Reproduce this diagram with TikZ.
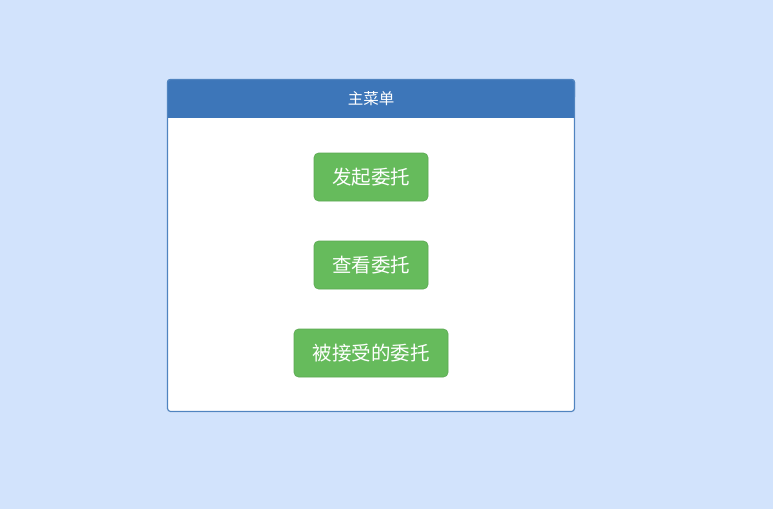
\documentclass[tikz,border=0pt]{standalone}
\usepackage{fontspec}
\setmainfont{Noto Sans CJK SC}
\usepackage{xcolor}
\definecolor{bgblue}{HTML}{D2E3FC}
\definecolor{headblue}{HTML}{3D76B9}
\definecolor{btngreen}{HTML}{66BB5C}
\tikzset{
	menubtn/.style = {fill=btngreen, draw=btngreen!90!black, line width=0.6pt, rounded corners=4.5pt, text=white, font=\fontsize{19.5}{22}\selectfont, minimum height=48pt, inner xsep=15pt, anchor=center},
}

\begin{document}
\begin{tikzpicture}[x=1pt, y=-1pt]
		\fill[bgblue] (0,0) rectangle (773,509);
		\useasboundingbox (0,0) rectangle (773,509);
		\fill[white, rounded corners=3pt] (167,79) rectangle (575,412);
		\fill[headblue, rounded corners=3pt] (167,79) rectangle (575,100);
		\fill[headblue] (167,95) rectangle (575,118);
		\draw[headblue!90!white, line width=1.2pt, rounded corners=3pt] (167.5,79.5) rectangle (574.5,411.5);
		\node[text=white, font=\fontsize{15.5}{17}\selectfont] (title) at (371,99) {主菜单};
		\node[menubtn, minimum width=114pt] (start) at (371,177) {发起委托};
		\node[menubtn, minimum width=114pt] (view) at (371,265) {查看委托};
		\node[menubtn, minimum width=154pt] (accepted) at (371,353) {被接受的委托};
	\end{tikzpicture}
\end{document}
